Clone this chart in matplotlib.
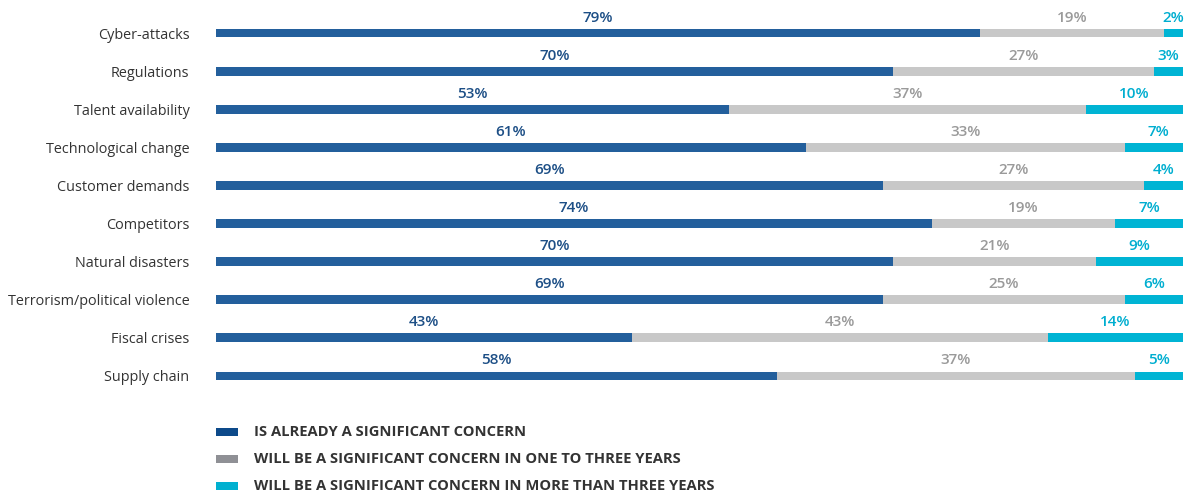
import matplotlib.pyplot as plt
from matplotlib.patches import Rectangle

plt.rcParams["font.family"] = ["Open Sans", "DejaVu Sans"]

categories = [
    "Cyber-attacks",
    "Regulations",
    "Talent availability",
    "Technological change",
    "Customer demands",
    "Competitors",
    "Natural disasters",
    "Terrorism/political violence",
    "Fiscal crises",
    "Supply chain",
]
already = [79, 70, 53, 61, 69, 74, 70, 69, 43, 58]
one_to_three = [19, 27, 37, 33, 27, 19, 21, 25, 43, 37]
more_than_three = [2, 3, 10, 7, 4, 7, 9, 6, 14, 5]

series_names = [
    "IS ALREADY A SIGNIFICANT CONCERN",
    "WILL BE A SIGNIFICANT CONCERN IN ONE TO THREE YEARS",
    "WILL BE A SIGNIFICANT CONCERN IN MORE THAN THREE YEARS",
]
bar_colors = ["#235f9c", "#c8c8c8", "#00b4d4"]
text_colors = ["#1d4f86", "#9a9a9a", "#00aed0"]
legend_colors = ["#0d4a8a", "#8f9095", "#00b0d0"]

fig = plt.figure(figsize=(11.92, 4.92), dpi=100)
ax = fig.add_axes([216 / 1192, 1 - 395 / 492, (1183 - 216) / 1192, 381 / 492])

y = list(range(len(categories)))
left = [0] * len(categories)
for vals, bc, tc in zip([already, one_to_three, more_than_three], bar_colors, text_colors):
    bars = ax.barh(y, vals, left=left, height=0.23, color=bc, linewidth=0)
    for b, v in zip(bars, vals):
        cx = b.get_x() + b.get_width() / 2
        ax.annotate(f"{v}%", (cx, b.get_y()), xytext=(0, 3), textcoords="offset points",
                    ha="center", va="bottom", color=tc, fontsize=11,
                    fontweight="semibold")
    left = [l + v for l, v in zip(left, vals)]

ax.set_xlim(0, 100)
ax.set_ylim(len(categories) - 0.5, -0.5)
ax.set_yticks(y)
ax.set_yticklabels(categories, fontsize=10.4, color="#333333")
ax.tick_params(axis="y", length=0, pad=19)
ax.set_xticks([])
for s in ax.spines.values():
    s.set_visible(False)

# legend
for i, (name, col) in enumerate(zip(series_names, legend_colors)):
    yc = 1 - (432 + 27 * i) / 492
    fig.add_artist(Rectangle((216 / 1192, yc - 4 / 492), 22 / 1192, 8 / 492,
                             transform=fig.transFigure, color=col, lw=0))
    fig.text(254 / 1192, yc, name, ha="left", va="center", fontsize=10.6,
             fontweight="bold", color="#333333")

fig.savefig("out.png", dpi=100)
